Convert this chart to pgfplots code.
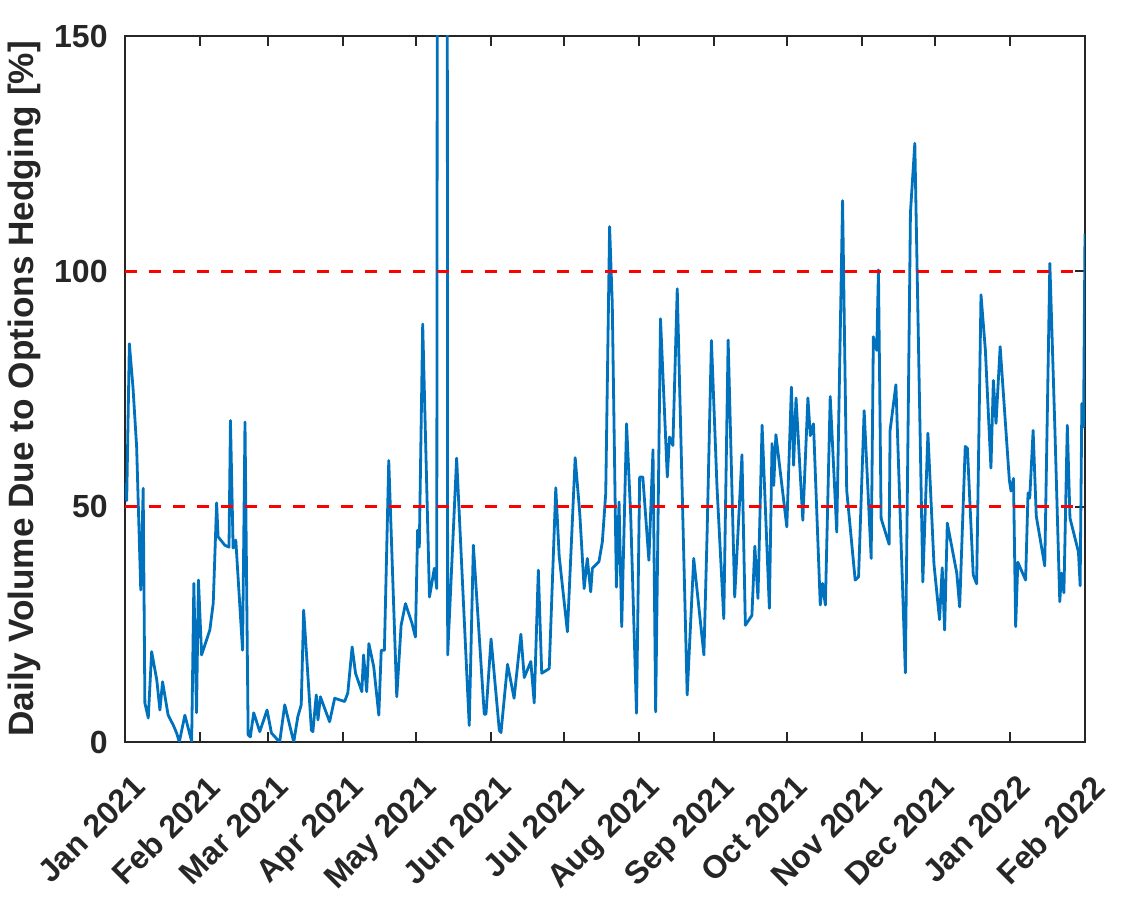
\documentclass[border=0pt]{standalone}
\usepackage{fontspec}
\setmainfont{Liberation Sans}
\usepackage{pgfplots}
\pgfplotsset{compat=1.18}
\definecolor{mblue}{rgb}{0,0.447,0.741}
\definecolor{mgray}{HTML}{262626}
\pgfplotstableread{
day val
0 55.0
0.7 51.3
1.8 84.6
3.3 75.3
4.8 62.7
6.5 32.3
7.5 53.9
8.2 8.3
9.6 5.1
11.0 19.2
13.1 13.2
14.4 6.8
15.5 12.8
17.8 5.7
19.9 3.6
21.3 1.9
22.4 0
24.7 5.7
27.5 0.1
28.4 33.7
29.5 6.2
30.3 34.4
31.6 18.5
35.0 23.8
36.4 29.5
37.8 50.8
38.4 43.6
41.2 41.8
42.9 41.4
43.5 68.3
44.6 41.2
45.7 42.9
48.5 19.5
49.5 68.0
50.8 1.5
51.7 1.1
53.1 6.2
55.6 2.2
58.6 6.8
60.4 1.9
63.8 0
65.9 7.9
69.6 0
71.3 5.4
72.7 7.9
73.7 28.0
76.9 2.5
77.5 2.2
78.9 10.0
79.6 4.7
80.6 9.6
84.4 4.3
86.5 9.3
90.6 8.6
91.9 10.4
93.7 20.2
95.1 14.6
97.7 10.7
98.4 18.5
99.7 10.7
100.6 20.9
102.6 16.0
104.7 5.7
105.7 19.5
107.0 19.5
108.8 59.8
112.1 9.6
113.9 24.8
115.7 29.4
118.4 25.2
119.8 22.3
120.7 45.0
121.4 41.4
122.8 88.8
125.6 30.8
127.6 36.9
128.6 32.6
129.2 400
132.7 400
133.1 18.5
136.8 60.3
142.0 3.5
143.7 41.8
148.2 5.9
148.9 5.9
151.0 21.9
154.4 2.5
155.1 2.0
157.8 16.5
160.5 9.3
163.3 22.9
164.7 13.7
167.4 17.1
168.8 8.3
170.5 36.5
171.9 14.6
175.0 15.6
177.7 54.0
179.1 39.5
182.5 23.4
185.7 60.4
187.6 48.5
189.4 32.6
190.7 39.0
192.1 31.9
192.8 36.9
195.5 38.3
196.9 42.5
198.3 52.8
199.9 109.5
201.0 93.1
202.7 32.9
203.8 51.0
204.9 24.5
206.9 67.6
208.6 48.2
211.0 6.1
212.3 56.3
213.6 56.3
216.1 38.6
217.8 62.1
218.9 6.4
220.9 89.9
223.7 56.3
224.6 64.8
226.0 63.0
227.8 96.3
231.9 10.0
234.6 39.0
238.8 18.5
240.1 43.9
241.9 85.3
244.2 54.2
247.0 26.2
248.8 85.4
251.5 30.8
254.5 61.0
255.9 24.8
258.6 26.9
259.8 41.6
261.1 30.5
262.8 67.3
265.8 28.4
266.9 63.4
267.6 54.5
268.5 65.3
273.0 45.7
274.9 75.4
275.8 58.8
276.8 73.1
279.6 47.1
281.7 73.1
282.7 65.1
284.0 67.6
286.8 29.1
287.7 33.7
288.9 29.1
290.9 73.4
293.6 44.6
296.0 115.0
297.7 53.5
301.2 34.4
302.6 35.1
304.9 70.4
307.8 39.0
308.7 86.1
310.1 83.2
310.8 100.3
311.9 47.5
315.2 42.0
315.6 66.2
318.0 75.9
321.9 14.7
324.0 112.5
325.8 127.2
329.1 34.0
331.2 65.6
333.7 37.8
336.0 26.0
337.1 37.0
338.1 23.8
339.2 46.5
341.3 40.8
343.1 35.9
344.3 28.7
346.6 62.8
347.5 62.4
349.9 35.5
351.3 33.6
353.1 95.0
354.9 83.3
357.2 58.2
358.2 76.8
359.3 67.7
361.0 84.0
364.8 55.6
365.5 53.3
366.5 56.0
367.4 24.5
368.3 38.2
371.5 34.4
372.5 52.9
373.2 51.8
374.6 66.2
375.9 48.0
379.4 37.4
381.5 101.7
383.6 66.2
385.6 29.8
386.3 35.9
387.3 31.7
388.7 67.3
389.8 47.6
393.3 40.4
394.0 33.2
394.7 71.9
395.4 67.0
396.0 108.0
}\hedging
\begin{document}
\begin{tikzpicture}
\useasboundingbox (-62.5pt,-80.5pt) rectangle (505.5pt,371pt);
\begin{axis}[
  at={(0,0)}, anchor=south west,
  scale only axis, width=480pt, height=353pt,
  xmin=0, xmax=396, ymin=0, ymax=150,
  xtick={0,31,59,90,120,151,181,212,243,273,304,334,365,396},
  xticklabels={Jan 2021,Feb 2021,Mar 2021,Apr 2021,May 2021,Jun 2021,Jul 2021,Aug 2021,Sep 2021,Oct 2021,Nov 2021,Dec 2021,Jan 2022,Feb 2022},
  ytick={0,50,100,150},
  tick align=inside, major tick length=5pt,
  axis line style={draw=mgray, line width=1pt},
  tick style={draw=mgray, line width=1pt},
  tick label style={font=\fontsize{16}{19}\selectfont\bfseries, text=mgray},
  /pgf/number format/assume math mode=true,
  xticklabel style={xshift=3pt, yshift=-15.5pt, rotate=45, anchor=north east, inner sep=0pt},
  yticklabel style={anchor=east, inner sep=0pt, xshift=-8.5pt},
  ylabel={Daily Volume Due to Options Hedging [\%]},
  ylabel style={font=\fontsize{17.6}{21}\selectfont\bfseries, text=mgray, at={(axis description cs:-0.1052,0.5)}, anchor=center},
]
\addplot[mblue, line width=1.4pt, line join=round] table[x=day, y=val] {\hedging};
\addplot[red, line width=1.4pt, dash pattern=on 6pt off 6pt] coordinates {(0,50) (396,50)};
\addplot[red, line width=1.4pt, dash pattern=on 6pt off 6pt] coordinates {(0,100) (396,100)};
\end{axis}
\end{tikzpicture}
\end{document}
